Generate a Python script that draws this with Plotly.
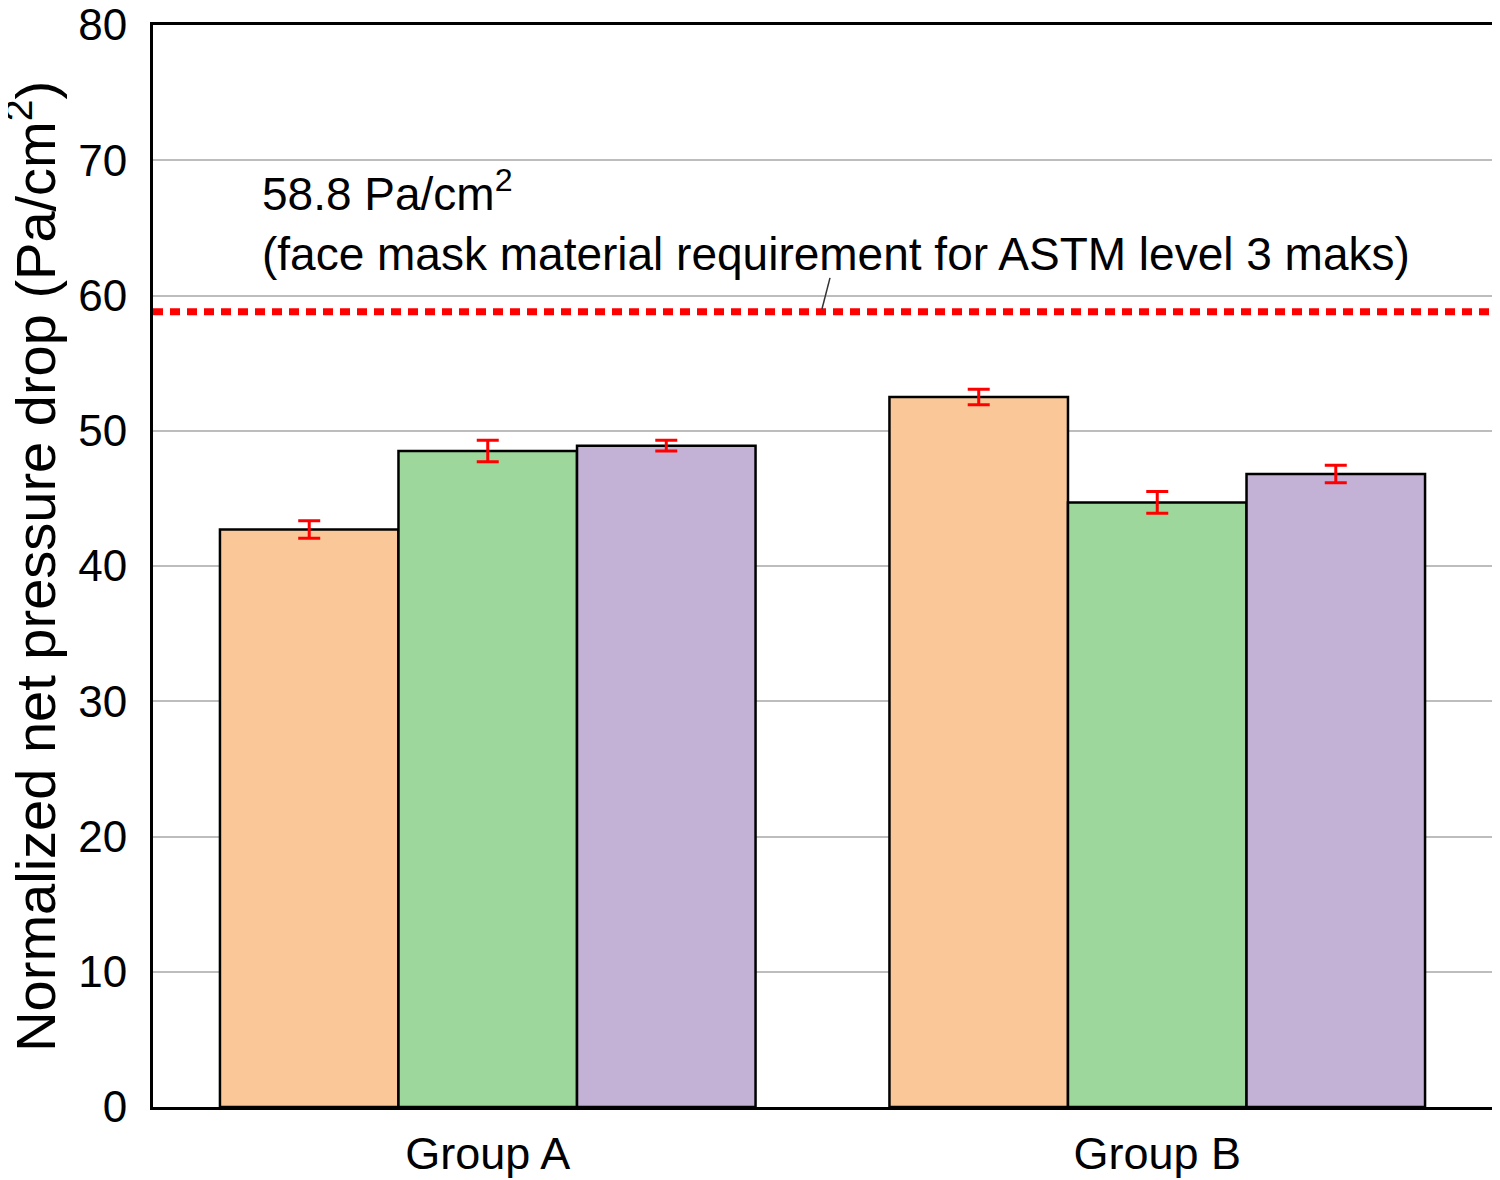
import plotly.graph_objects as go

# data
groups = ["Group A", "Group B"]
series_names = ["Sample 1", "Sample 2", "Sample 3"]
series_values = [
    [42.7, 52.5],   # orange
    [48.5, 44.7],   # green
    [48.9, 46.8],   # purple
]
series_errors = [
    [0.65, 0.57],
    [0.8, 0.8],
    [0.4, 0.65],
]
series_colors = ["#FAC898", "#9ED79B", "#C3B1D6"]
threshold = 58.8
threshold_label = "58.8 Pa/cm<sup>2</sup><br>(face mask material requirement for ASTM level 3 maks)"
y_title = "Normalized net pressure drop (Pa/cm<sup>2</sup>)"
y_ticks = [0, 10, 20, 30, 40, 50, 60, 70, 80]

FONT = "Arial, 'Liberation Sans', sans-serif"

fig = go.Figure()

for name, vals, errs, color in zip(series_names, series_values, series_errors, series_colors):
    fig.add_trace(go.Bar(
        name=name,
        x=groups,
        y=vals,
        marker=dict(color=color, line=dict(color="black", width=2.5)),
        error_y=dict(type="data", array=errs, visible=True,
                     color="#FF0000", thickness=3, width=11),
    ))

# threshold line
fig.add_shape(type="line", xref="paper", x0=0, x1=1, yref="y",
              y0=threshold, y1=threshold,
              line=dict(color="#FF0000", width=7, dash="10px,7px"))

# leader from label to the threshold line
fig.add_shape(type="line", xref="paper", x0=0.5056, x1=0.4996, yref="y",
              y0=61.3, y1=threshold + 0.2,
              line=dict(color="#333333", width=1.5))

fig.add_annotation(
    text=threshold_label, xref="paper", x=0.08, xanchor="left",
    yref="y", y=65.5, yanchor="middle", showarrow=False, align="left",
    font=dict(family=FONT, size=46, color="black"),
)

# y axis title as a rotated annotation so it can sit exactly where the reference has it
fig.add_annotation(
    text=y_title, textangle=-90, xref="paper", x=-0.0905, xanchor="center",
    yref="paper", y=0.5, yanchor="middle", showarrow=False,
    font=dict(family=FONT, size=56, color="black"),
)

# page body adds an 8px offset, margins compensate for it
fig.update_layout(
    width=1500, height=1180,
    margin=dict(l=145, r=16, t=17, b=81),
    paper_bgcolor="white", plot_bgcolor="white",
    barmode="group", bargap=0.2, bargroupgap=0,
    showlegend=False,
    font=dict(family=FONT, color="black"),
)

fig.update_xaxes(
    automargin=False,
    showline=True, linecolor="black", linewidth=3, mirror=True,
    showgrid=False, ticks="", tickfont=dict(size=45, family=FONT),
    ticklabelstandoff=5,
)
fig.update_yaxes(
    automargin=False, ticklabeloverflow="allow",
    range=[0, 80], tickvals=y_ticks,
    showline=True, linecolor="black", linewidth=3, mirror=True,
    showgrid=True, gridcolor="#BDBDBD", gridwidth=2,
    zeroline=False, ticks="", tickfont=dict(size=44, family=FONT),
    ticklabelstandoff=14,
)

fig.write_html("out.html")
